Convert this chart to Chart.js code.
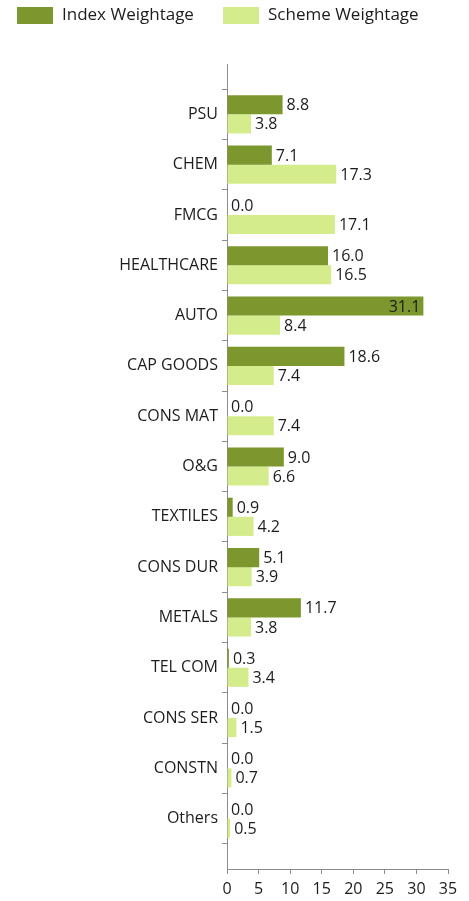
<!DOCTYPE html>
<html>
<head>
<meta charset="utf-8">
<script src="https://cdn.jsdelivr.net/npm/chart.js@4/dist/chart.umd.min.js"></script>
<style>
html,body{margin:0;padding:0;background:#fff;}
#wrap{position:relative;width:469px;height:901px;}
</style>
</head>
<body>
<div id="wrap"><canvas id="c" width="469" height="901"></canvas></div>
<script>
const categories = ["PSU","CHEM","FMCG","HEALTHCARE","AUTO","CAP GOODS","CONS MAT","O&G","TEXTILES","CONS DUR","METALS","TEL COM","CONS SER","CONSTN","Others"];
const indexWeightage = [8.8,7.1,0.0,16.0,31.1,18.6,0.0,9.0,0.9,5.1,11.7,0.3,0.0,0.0,0.0];
const schemeWeightage = [3.8,17.3,17.1,16.5,8.4,7.4,7.4,6.6,4.2,3.9,3.8,3.4,1.5,0.7,0.5];
const seriesNames = ["Index Weightage","Scheme Weightage"];
const xTicks = [0,5,10,15,20,25,30,35];

const FONT = "'Open Sans', sans-serif";
const DARK = '#7B972D';
const LIGHT = '#D5EC8C';
const TEXT = '#1c1c1c';

const legendPlugin = {
  id: 'customLegend',
  afterDraw(chart) {
    const ctx = chart.ctx;
    ctx.save();
    ctx.font = "17px " + FONT;
    ctx.textBaseline = 'middle';
    const starts = [17, 223];
    chart.data.datasets.forEach((ds, i) => {
      const x = starts[i];
      ctx.fillStyle = ds.backgroundColor;
      ctx.fillRect(x, 7, 36, 17);
      ctx.fillStyle = TEXT;
      ctx.textAlign = 'left';
      ctx.fillText(ds.label, x + 45, 15);
    });
    ctx.restore();
  }
};

const valueLabels = {
  id: 'valueLabels',
  afterDatasetsDraw(chart) {
    const ctx = chart.ctx;
    ctx.save();
    ctx.font = "16px " + FONT;
    ctx.textBaseline = 'middle';
    ctx.fillStyle = TEXT;
    chart.data.datasets.forEach((ds, di) => {
      const meta = chart.getDatasetMeta(di);
      meta.data.forEach((el, i) => {
        const v = ds.data[i].x;
        const txt = v.toFixed(1);
        if (v > 30) {
          ctx.textAlign = 'right';
          ctx.fillText(txt, el.x - 3, el.y + 1);
        } else {
          ctx.textAlign = 'left';
          ctx.fillText(txt, el.x + 4, el.y + 1);
        }
      });
    });
    ctx.restore();
  }
};

new Chart(document.getElementById('c'), {
  type: 'bar',
  data: {
    datasets: [
      { label: seriesNames[0], data: indexWeightage.map((v, i) => ({ x: v, y: i })), backgroundColor: DARK },
      { label: seriesNames[1], data: schemeWeightage.map((v, i) => ({ x: v, y: i })), backgroundColor: LIGHT }
    ]
  },
  options: {
    indexAxis: 'y',
    responsive: false,
    animation: false,
    layout: { padding: { top: 64, right: 21, left: 0, bottom: 0 } },
    datasets: { bar: { categoryPercentage: 0.76, barPercentage: 1.0 } },
    plugins: { legend: { display: false }, tooltip: { enabled: false } },
    scales: {
      y: {
        type: 'linear',
        offset: false,
        reverse: true,
        min: -1,
        max: 15,
        afterFit(s) { s.width = 227; },
        afterBuildTicks(s) { s.ticks = []; for (let i = -1; i <= 15; i++) s.ticks.push({ value: i }); },
        ticks: {
          stepSize: 1,
          autoSkip: false,
          padding: 4,
          color: TEXT,
          font: { family: FONT, size: 16 },
          callback: (v) => categories[v] || ''
        },
        grid: { drawOnChartArea: false, drawTicks: true, tickLength: 5, color: '#8c8c8c' },
        border: { color: '#8c8c8c', width: 1 }
      },
      x: {
        type: 'linear',
        offset: false,
        min: 0,
        max: 35,
        afterFit(s) { s.height = 32; },
        afterBuildTicks(s) { s.ticks = xTicks.map(v => ({ value: v })); },
        ticks: { color: TEXT, padding: 6, font: { family: FONT, size: 16 } },
        grid: { drawOnChartArea: false, drawTicks: true, tickLength: 5, color: '#8c8c8c' },
        border: { color: '#8c8c8c', width: 1 }
      }
    }
  },
  plugins: [legendPlugin, valueLabels]
});
</script>
</body>
</html>
